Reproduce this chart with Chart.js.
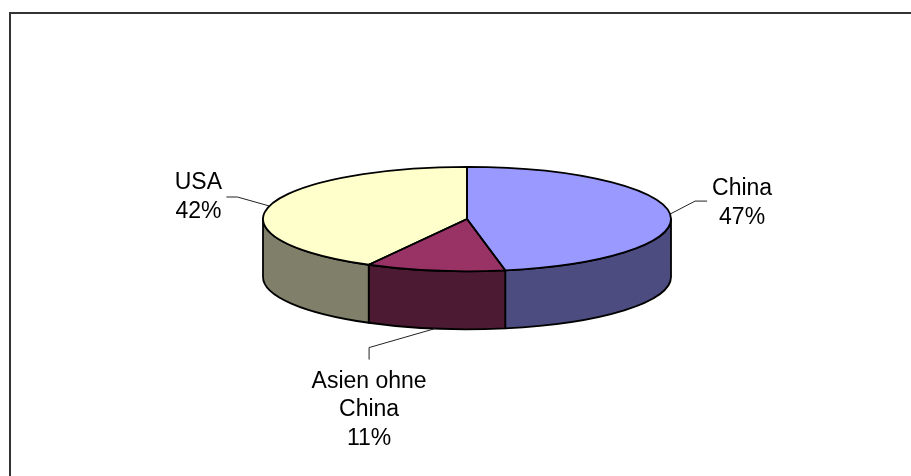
<!DOCTYPE html>
<html lang="de">
<head>
<meta charset="utf-8">
<title>Anteile nach Region</title>
<script src="https://cdn.jsdelivr.net/npm/chart.js@4.4.1/dist/chart.umd.min.js"></script>
<style>
  html, body { margin: 0; padding: 0; background: #fff; }
  #wrap { position: relative; width: 911px; height: 476px; }
</style>
</head>
<body>
<div id="wrap"><canvas id="pie"></canvas></div>
<script>
// Regions (multi-line names) and their shares in percent
const categories = [['China'], ['Asien ohne', 'China'], ['USA']];
const shares = [47, 11, 42];

// Top faces and the darker side walls of each slice
const topColours = ['#9999FF', '#993366', '#FFFFCC'];
const wallColours = ['#4C4C80', '#4D1A33', '#80806A'];

// Portion(s) of the angular range [a, b] that face the viewer (lower half of the ellipse)
function frontParts(a, b) {
  const TAU = Math.PI * 2, parts = [];
  for (let n = -1; n <= 1; n++) {
    const lo = n * TAU, hi = lo + Math.PI;
    const s = Math.max(a, lo), e = Math.min(b, hi);
    if (e > s) parts.push([s, e]);
  }
  return parts;
}

// Tilted, extruded pie: walls below, squashed top faces, outlines, leader lines and labels
const pie3d = {
  id: 'pie3d',
  beforeDraw(chart, args, opts) {
    const ctx = chart.ctx;
    ctx.save();
    ctx.fillStyle = opts.frameColour;
    ctx.fillRect(opts.frameLeft, opts.frameTop, 2, chart.height - opts.frameTop);
    ctx.fillRect(opts.frameLeft, opts.frameTop, chart.width - opts.frameLeft, 2);
    ctx.restore();
  },
  beforeDatasetsDraw(chart, args, opts) {
    const ctx = chart.ctx;
    const arcs = chart.getDatasetMeta(0).data;
    const { x: cx, y: cy, outerRadius: rx } = arcs[0];
    const ry = rx * opts.tilt, d = opts.depth;
    ctx.save();
    ctx.lineWidth = opts.outlineWidth;
    ctx.strokeStyle = '#000';
    ctx.lineJoin = 'round';
    arcs.forEach((arc, i) => {
      frontParts(arc.startAngle, arc.endAngle).forEach(([s, e]) => {
        ctx.beginPath();
        ctx.ellipse(cx, cy, rx, ry, 0, s, e, false);
        ctx.lineTo(cx + rx * Math.cos(e), cy + d + ry * Math.sin(e));
        ctx.ellipse(cx, cy + d, rx, ry, 0, e, s, true);
        ctx.closePath();
        ctx.fillStyle = wallColours[i];
        ctx.fill();
        ctx.stroke();
      });
    });
    ctx.restore();
    // squash the library's circular slices into the tilted top face
    ctx.save();
    ctx.translate(0, cy);
    ctx.scale(1, opts.tilt);
    ctx.translate(0, -cy);
  },
  afterDatasetsDraw(chart, args, opts) {
    const ctx = chart.ctx;
    ctx.restore();
    const arcs = chart.getDatasetMeta(0).data;
    const { x: cx, y: cy, outerRadius: rx } = arcs[0];
    const ry = rx * opts.tilt, d = opts.depth;
    ctx.save();
    ctx.lineWidth = opts.outlineWidth;
    ctx.strokeStyle = '#000';
    ctx.lineJoin = 'round';
    arcs.forEach(arc => {
      ctx.beginPath();
      ctx.moveTo(cx, cy);
      ctx.ellipse(cx, cy, rx, ry, 0, arc.startAngle, arc.endAngle, false);
      ctx.closePath();
      ctx.stroke();
    });

    // leader lines and labels
    ctx.font = opts.font;
    ctx.textAlign = 'center';
    ctx.textBaseline = 'alphabetic';
    arcs.forEach((arc, i) => {
      const lab = opts.labels[i];
      const m = (arc.startAngle + arc.endAngle) / 2;
      const ax = cx + rx * Math.cos(m);
      const ay = cy + ry * Math.sin(m) + (lab.onBase ? d : 0);
      ctx.beginPath();
      ctx.lineWidth = 1;
      ctx.strokeStyle = opts.leaderColour;
      ctx.moveTo(ax, ay);
      ctx.lineTo(ax + lab.elbow[0], ay + lab.elbow[1]);
      ctx.lineTo(ax + lab.end[0], ay + lab.end[1]);
      ctx.stroke();
      const lines = [...categories[i], shares[i] + '%'];
      ctx.fillStyle = '#000';
      lines.forEach((t, k) => {
        ctx.fillText(t, ax + lab.text[0], ay + lab.text[1] + k * opts.lineHeight);
      });
    });
    ctx.restore();
  }
};

new Chart(document.getElementById('pie'), {
  type: 'pie',
  data: {
    labels: categories.map(c => c.join(' ')),
    datasets: [{
      data: shares,
      backgroundColor: topColours,
      borderWidth: 0,
      clip: false
    }]
  },
  options: {
    responsive: true,
    maintainAspectRatio: false,
    animation: false,
    events: [],
    layout: { padding: { left: 263, right: 240, top: 15, bottom: 53 } },
    plugins: {
      legend: { display: false },
      tooltip: { enabled: false },
      pie3d: {
        tilt: 0.256,
        depth: 58,
        outlineWidth: 1.8,
        frameColour: '#333333',
        frameLeft: 9,
        frameTop: 12,
        leaderColour: '#222222',
        font: '23px "Liberation Sans", Arial, sans-serif',
        lineHeight: 28.5,
        labels: [
          { onBase: false, elbow: [25, -13], end: [37, -13], text: [72, -19] },
          { onBase: true, elbow: [-66, 19], end: [-66, 31], text: [-66, 59] },
          { onBase: false, elbow: [-32, -9], end: [-43, -9], text: [-71, -17] }
        ]
      }
    }
  },
  plugins: [pie3d]
});
</script>
</body>
</html>
